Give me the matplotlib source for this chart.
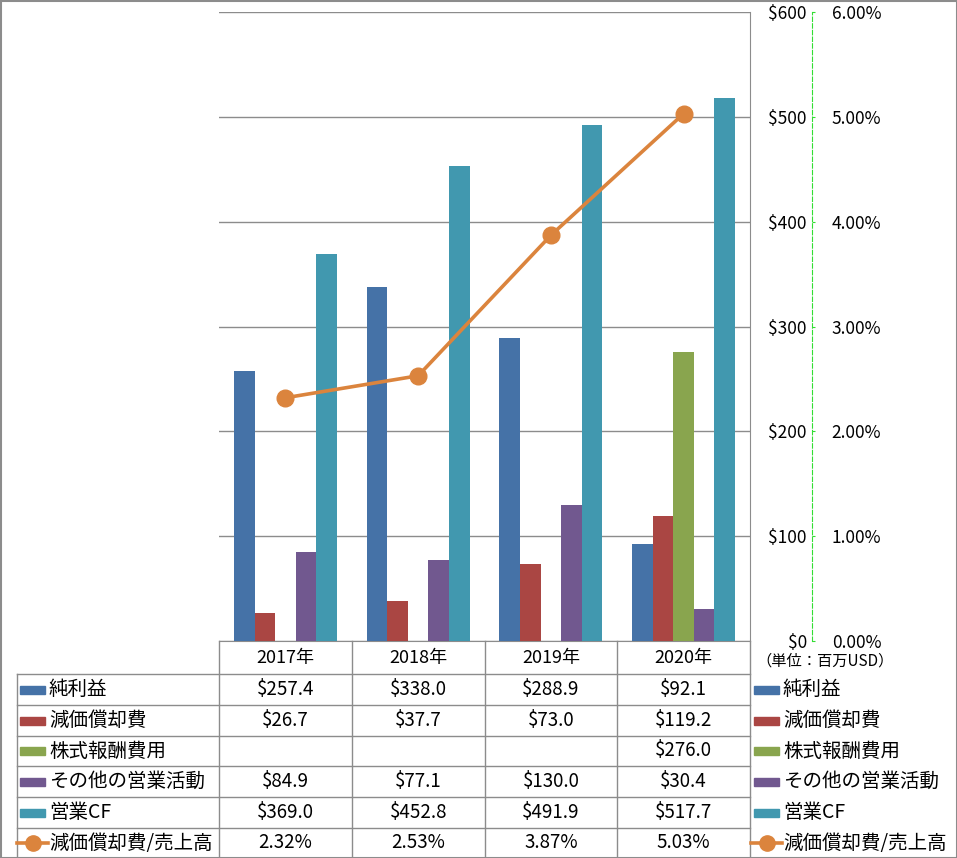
import numpy as np
import matplotlib
matplotlib.use('Agg')
import matplotlib.pyplot as plt
from matplotlib.lines import Line2D
from matplotlib.patches import Rectangle

plt.rcParams['font.family'] = ['Noto Sans CJK JP', 'DejaVu Sans']

years = ['2017年', '2018年', '2019年', '2020年']
series_names = ['純利益', '減価償却費', '株式報酬費用', 'その他の営業活動', '営業CF']
net_income = [257.4, 338.0, 288.9, 92.1]
depreciation = [26.7, 37.7, 73.0, 119.2]
stock_comp = [np.nan, np.nan, np.nan, 276.0]
other_ops = [84.9, 77.1, 130.0, 30.4]
op_cf = [369.0, 452.8, 491.9, 517.7]
line_name = '減価償却費/売上高'
dep_ratio = [2.32, 2.53, 3.87, 5.03]  # %

colors = ['#4572A7', '#AA4643', '#89A54E', '#71588F', '#4198AF']
orange = '#DB843D'
grid_c = '#8c8c8c'

W, H = 957, 858
fig = plt.figure(figsize=(W / 100, H / 100), dpi=100)

def fx(px):
    return px / W

def fy(py):
    return 1 - py / H

# main plot area (pixels: x 219-750, y 12-641)
ax = fig.add_axes([fx(219), fy(641), fx(750 - 219), (641 - 12) / H])
ax.set_facecolor('none')
x = np.arange(len(years))
bw = 0.155
all_series = [net_income, depreciation, stock_comp, other_ops, op_cf]
for i, vals in enumerate(all_series):
    ax.bar(x + (i - 2) * bw, vals, bw, color=colors[i], zorder=3)
ax.set_xlim(-0.5, 3.5)
ax.set_ylim(0, 600)
ax.set_xticks([])
ax.grid(axis='y', color=grid_c, lw=1, zorder=0)
ax.spines['left'].set_visible(False)
ax.spines['top'].set_visible(False)
ax.spines['bottom'].set_color(grid_c)
ax.spines['right'].set_color(grid_c)

# secondary axis (percent)
ax2 = ax.twinx()
ax2.plot(x, np.array(dep_ratio) / 100, color=orange, lw=2.6, marker='o',
         markersize=12, zorder=5)
ax2.set_ylim(0, 0.06)
ax2.set_yticks(np.arange(0, 0.0601, 0.01))
ax2.set_yticklabels(['%.2f%%' % (v * 100) for v in np.arange(0, 0.0601, 0.01)])
for s in ['left', 'top', 'bottom']:
    ax2.spines[s].set_visible(False)
ax2.spines['right'].set_position(('axes', (811.5 - 219) / 531))
ax2.spines['right'].set_color('#33dd33')
ax2.spines['right'].set_linestyle((0, (4, 2)))
ax2.spines['right'].set_linewidth(0.8)
ax2.tick_params(axis='y', color='#33dd33', length=2.5, width=0.8, pad=12,
                labelsize=12.5)

# dollar labels on the right of the main axis (after twinx)
ax.yaxis.tick_right()
ax.set_yticks(range(0, 601, 100))
ax.set_yticklabels(['$%d' % v for v in range(0, 601, 100)])
ax.tick_params(axis='y', length=0, pad=41, labelsize=12.5)
for lab in ax.get_yticklabels():
    lab.set_horizontalalignment('right')

# overlay for table and legend (pixel coordinates)
ov = fig.add_axes([0, 0, 1, 1])
ov.set_xlim(0, W)
ov.set_ylim(H, 0)
ov.axis('off')

cols = [219, 352, 485, 617, 750]
rows = [674, 705, 736, 766, 797, 828, 858]
lkw = dict(color=grid_c, lw=1)
for cx in cols:
    ov.plot([cx, cx], [641, 858], **lkw)
ov.plot([17, 17], [674, 858], **lkw)
for ry in rows:
    ov.plot([17, 750], [ry, ry], **lkw)

# header
for j, yr in enumerate(years):
    ov.text((cols[j] + cols[j + 1]) / 2, 658, yr, ha='center', va='center',
            fontsize=13)
ov.text(825, 661, '（単位：百万USD）', ha='center', va='center', fontsize=11)

def fmt_money(v):
    return '' if np.isnan(v) else '$%.1f' % v

row_vals = [[fmt_money(v) for v in s] for s in all_series]
row_vals.append(['%.2f%%' % v for v in dep_ratio])
row_names = series_names + [line_name]

for r in range(6):
    cy = (rows[r] + rows[r + 1]) / 2
    for j in range(4):
        ov.text((cols[j] + cols[j + 1]) / 2, cy, row_vals[r][j], ha='center',
                va='center', fontsize=13.5)
    for lx, tx in [(20, 49), (754, 783)]:
        if r < 5:
            ov.add_patch(Rectangle((lx, cy - 4), 25, 8, color=colors[r]))
        else:
            ov.add_line(Line2D([lx - 3, lx + 28], [cy, cy], color=orange, lw=2.6))
            ov.plot([lx + 12.5], [cy], 'o', color=orange, markersize=11)
        ov.text(tx, cy, row_names[r], ha='left', va='center', fontsize=14)

# outer border
ov.add_patch(Rectangle((0.5, 0.5), W - 1, H - 1, fill=False, ec=grid_c, lw=1.5))

fig.savefig('out.png', dpi=100)
